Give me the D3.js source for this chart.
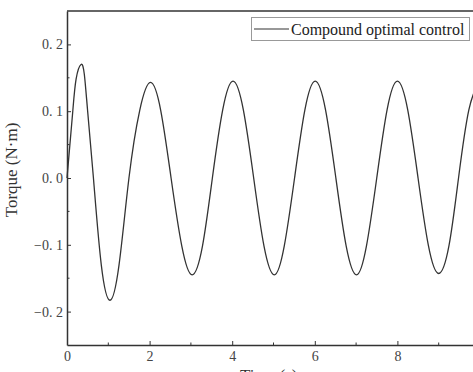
<!DOCTYPE html>
<html><head><meta charset="utf-8">
<script src="https://cdn.jsdelivr.net/npm/d3@7"></script>
<style>body{margin:0;background:#fff}svg{display:block}</style>
</head><body>
<svg id="c" width="473" height="372"></svg>
<script>
const time = [0, 0.07, 0.14, 0.22, 0.34, 0.42, 0.5, 0.64, 0.83, 1.04, 1.26, 1.5, 1.76, 2.02, 2.27, 2.52, 2.78, 3.03, 3.28, 3.52, 3.77, 4.02, 4.27, 4.52, 4.77, 5.02, 5.26, 5.51, 5.76, 6.01, 6.26, 6.51, 6.76, 7.01, 7.25, 7.5, 7.75, 8.0, 8.25, 8.5, 8.75, 9.0, 9.25, 9.48, 9.73, 9.98];
const torque = [0, 0.05, 0.1, 0.148, 0.17, 0.155, 0.1, 0, -0.13, -0.183, -0.13, 0, 0.101, 0.143, 0.101, 0, -0.102, -0.145, -0.102, 0, 0.102, 0.145, 0.102, 0, -0.102, -0.145, -0.102, 0, 0.102, 0.145, 0.102, 0, -0.102, -0.145, -0.102, 0, 0.102, 0.145, 0.102, 0, -0.101, -0.143, -0.101, 0, 0.102, 0.144];
const xMajor = [0, 2, 4, 6, 8];
const xMinor = [1, 3, 5, 7, 9];
const yMajor = [-0.2, -0.1, 0, 0.1, 0.2];
const yMinor = [-0.15, -0.05, 0.05, 0.15];
const seriesName = "Compound optimal control";
const xTitle = "Time (s)";
const yTitle = "Torque (N·m)";

const svg = d3.select("#c");
const L = 67, R = 480, T = 11, B = 345;
const x = d3.scaleLinear().domain([0, 10]).range([L, R]);
const y = d3.scaleLinear().domain([-0.25, 0.25]).range([B, T]);
const font = "'Liberation Serif','Times New Roman',serif";
const fmt = d => d3.format(".1f")(d).replace("-", "\u2212").replace(".", ". ");

// curve
const data = time.map((t, i) => [t, torque[i]]);
svg.append("path").datum(data)
  .attr("fill", "none").attr("stroke", "#333").attr("stroke-width", 1.3)
  .attr("d", d3.line().x(d => x(d[0])).y(d => y(d[1])).curve(d3.curveNatural));

// top frame
svg.append("line").attr("x1", L).attr("x2", R).attr("y1", T).attr("y2", T)
  .attr("stroke", "#333").attr("stroke-width", 1.5);

// y axis
const ya = svg.append("g").attr("transform", `translate(${L},0)`)
  .call(d3.axisLeft(y).tickValues(yMajor).tickFormat(fmt).tickSizeInner(-4).tickSizeOuter(0).tickPadding(4));
ya.append("g").selectAll("line").data(yMinor).join("line")
  .attr("x1", 0).attr("x2", 2.5).attr("y1", d => y(d)).attr("y2", d => y(d)).attr("stroke", "#333");
// x axis
const xa = svg.append("g").attr("transform", `translate(0,${B})`)
  .call(d3.axisBottom(x).tickValues(xMajor).tickFormat(d3.format("d")).tickSizeInner(-4).tickSizeOuter(0).tickPadding(6));
xa.append("g").selectAll("line").data(xMinor).join("line")
  .attr("x1", d => x(d)).attr("x2", d => x(d)).attr("y1", 0).attr("y2", -2.5).attr("stroke", "#333");
[ya, xa].forEach(a => {
  a.select(".domain").attr("stroke", "#333").attr("stroke-width", 1.5);
  a.selectAll(".tick line").attr("stroke", "#333");
  a.selectAll("text").attr("font-family", font).attr("font-size", 14).attr("fill", "#444");
});

// titles
svg.append("text").attr("transform", `translate(17,170) rotate(-90)`)
  .attr("text-anchor", "middle").attr("font-family", font).attr("font-size", 17).attr("fill", "#333").text(yTitle);
svg.append("text").attr("x", 240).attr("y", 381)
  .attr("text-anchor", "start").attr("font-family", font).attr("font-size", 17).attr("fill", "#333").text(xTitle);

// legend
const lg = svg.append("g");
lg.append("rect").attr("x", 251.5).attr("y", 17.5).attr("width", 218).attr("height", 23)
  .attr("fill", "#fff").attr("stroke", "#999").attr("stroke-width", 1);
lg.append("line").attr("x1", 254).attr("x2", 289).attr("y1", 29).attr("y2", 29).attr("stroke", "#333").attr("stroke-width", 1.2);
lg.append("text").attr("x", 291).attr("y", 35).attr("font-family", font).attr("font-size", 16).attr("fill", "#222").text(seriesName);
</script>
</body></html>
